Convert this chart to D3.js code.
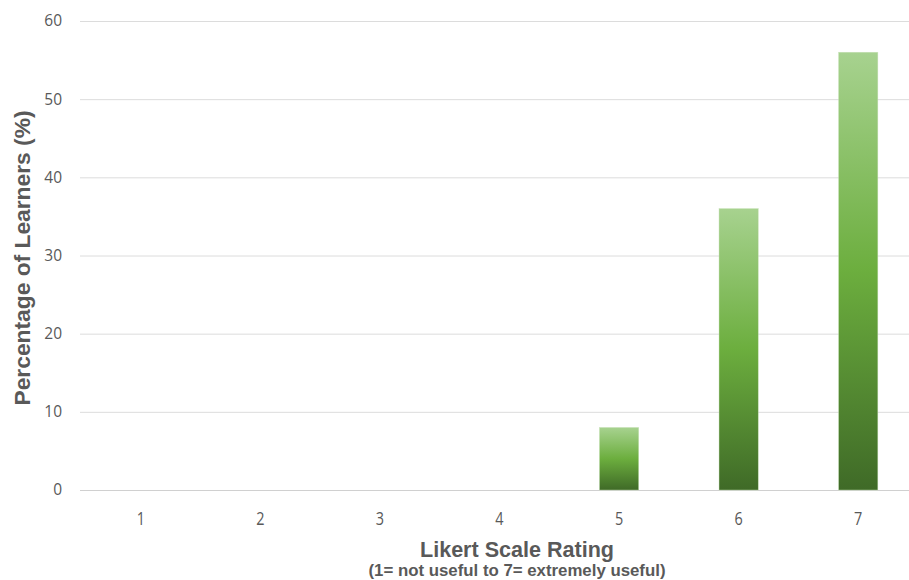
<!DOCTYPE html>
<html><head><meta charset="utf-8">
<script src="https://cdn.jsdelivr.net/npm/d3@7"></script>
<style>body{margin:0;background:#fff}svg{display:block}</style>
</head><body>
<svg id="c" width="909" height="580"></svg>
<script>
const categories = ["1","2","3","4","5","6","7"];
const values = [0,0,0,0,8,36,56];
const yTicks = [0,10,20,30,40,50,60];

const svg = d3.select("#c");
const m = {left:81, right:918, top:21, bottom:490};
const x = d3.scaleBand().domain(categories).range([m.left, m.right]).paddingInner(0.672).paddingOuter(0.336);
const y = d3.scaleLinear().domain([0,60]).range([m.bottom, m.top]);

const defs = svg.append("defs");
const g = defs.append("linearGradient").attr("id","gr").attr("x1",0).attr("y1",0).attr("x2",0).attr("y2",1);
g.append("stop").attr("offset","0%").attr("stop-color","#a7d28f");
g.append("stop").attr("offset","50%").attr("stop-color","#6cae3e");
g.append("stop").attr("offset","100%").attr("stop-color","#3f6a27");

// gridlines
svg.append("g").selectAll("line").data(yTicks).join("line")
  .attr("x1", 80).attr("x2", 909)
  .attr("y1", d=>y(d)+0.5).attr("y2", d=>y(d)+0.5)
  .attr("stroke", d=> d===0 ? "#d0d0d0" : "#dcdcdc").attr("stroke-width", 1);

// y tick labels
const yAxis = d3.axisLeft(y).tickValues(yTicks).tickSize(0).tickPadding(0);
const ya = svg.append("g").attr("transform","translate(62,0)").call(yAxis);
ya.select(".domain").remove();
ya.selectAll("text").attr("font-family","'Open Sans', sans-serif").attr("font-size",15.5).attr("fill","#595959");

// x tick labels
const xAxis = d3.axisBottom(x).tickSize(0).tickPadding(0);
const xa = svg.append("g").attr("transform","translate(0,512)").call(xAxis);
xa.select(".domain").remove();
xa.selectAll("text").attr("font-family","'Open Sans', sans-serif").attr("font-size",17).attr("fill","#595959")
  .attr("transform","scale(0.85,1.05)");

// bars
svg.append("g").selectAll("rect").data(values.map((v,i)=>({c:categories[i],v})).filter(d=>d.v>0)).join("rect")
  .attr("x", d=>x(d.c)).attr("width", x.bandwidth())
  .attr("y", d=>y(d.v)).attr("height", d=>y(0)-y(d.v))
  .attr("fill","url(#gr)").attr("stroke","#c5e0b4").attr("stroke-width",0.6).attr("stroke-opacity",0.7);

// titles
svg.append("text").attr("transform","translate(30,258) rotate(-90)").attr("text-anchor","middle")
  .attr("font-family","'Liberation Sans', Arial, sans-serif").attr("font-weight","bold").attr("font-size",22).attr("fill","#595959")
  .attr("textLength",295).attr("lengthAdjust","spacingAndGlyphs")
  .text("Percentage of Learners (%)");
svg.append("text").attr("x",517).attr("y",557).attr("text-anchor","middle")
  .attr("font-family","'Liberation Sans', Arial, sans-serif").attr("font-weight","bold").attr("font-size",22).attr("fill","#595959")
  .attr("textLength",194).attr("lengthAdjust","spacingAndGlyphs")
  .text("Likert Scale Rating");
svg.append("text").attr("x",517).attr("y",576).attr("text-anchor","middle")
  .attr("font-family","'Liberation Sans', Arial, sans-serif").attr("font-weight","bold").attr("font-size",16).attr("fill","#595959")
  .attr("textLength",297).attr("lengthAdjust","spacingAndGlyphs")
  .text("(1= not useful to 7= extremely useful)");
</script>
</body></html>
